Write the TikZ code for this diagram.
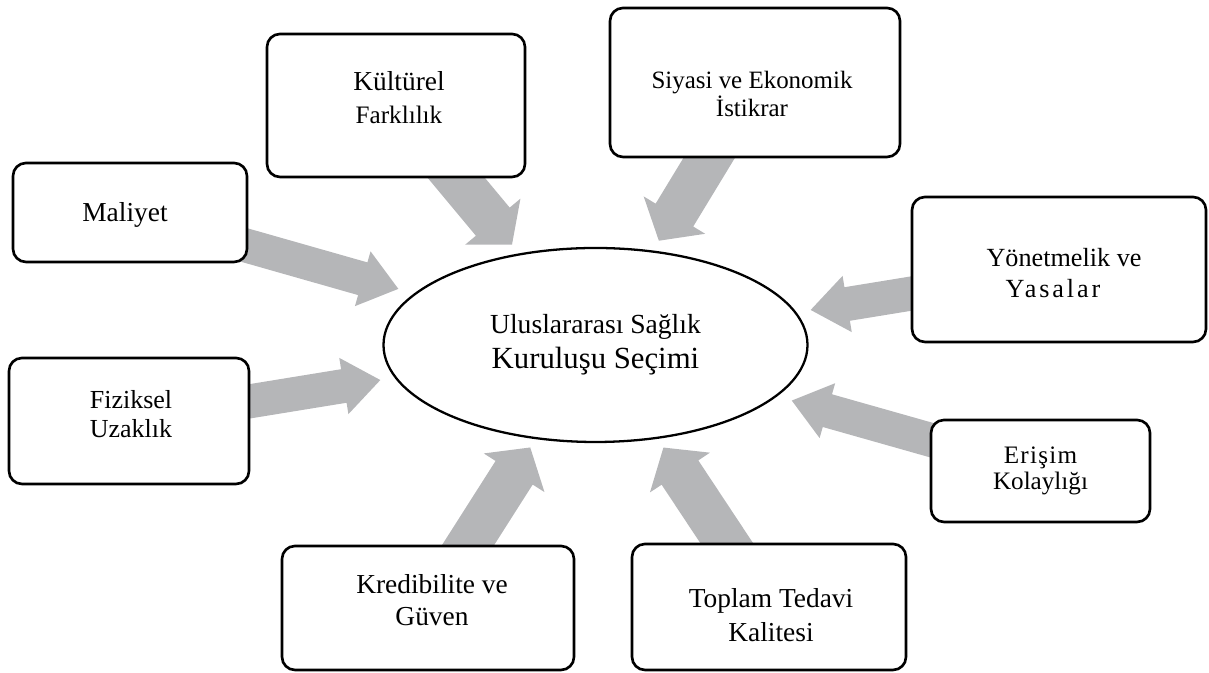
\documentclass[tikz,border=0pt]{standalone}
\usepackage{fontspec}
\setmainfont{Liberation Serif}
\usetikzlibrary{shapes.geometric,calc,backgrounds}
\definecolor{flowgray}{RGB}{181,182,184}

\tikzset{
  factor/.style={draw=black, line width=1.5pt, rounded corners=0.26cm, fill=white, inner sep=0pt},
  factortext/.style={align=center, inner sep=0pt, font=\fontsize{15.6}{18.5}\selectfont},
  flow/.style={fill=flowgray, draw=none},
}

% block arrow: tail, tip, half shaft, half head, head length
\newcommand{\flowarrow}[5]{%
  \coordinate (hb) at ($(#2)!#5!(#1)$);
  \fill[flow] ($(#1)!#3!90:(#2)$) -- ($(hb)!#3!90:(#2)$) -- ($(hb)!#4!90:(#2)$) -- (#2)
    -- ($(hb)!#4!-90:(#2)$) -- ($(hb)!#3!-90:(#2)$) -- ($(#1)!#3!-90:(#2)$) -- cycle;
}
\newcommand{\narrowflow}[2]{\flowarrow{#1}{#2}{0.34cm}{0.57cm}{0.74cm}}
\newcommand{\wideflow}[2]{\flowarrow{#1}{#2}{0.44cm}{0.72cm}{0.6cm}}

\begin{document}
\begin{tikzpicture}
\useasboundingbox (0,0) rectangle (24.18,13.46);

\node[shape=ellipse, draw=black, line width=1.3pt, minimum width=8.48cm, minimum height=3.88cm,
  align=center, font=\fontsize{15.7}{20}\selectfont] (secim) at (11.91,6.56)
  {Uluslararası Sağlık\\{\fontsize{17.5}{20}\selectfont Kuruluşu Seçimi}};

% factor boxes
\node[factor, minimum width=5.16cm, minimum height=2.86cm] (kultur) at (7.92,11.35) {};
\node[factor, minimum width=5.80cm, minimum height=2.98cm] (siyasi) at (15.10,11.81) {};
\node[factor, minimum width=4.68cm, minimum height=1.98cm] (maliyet) at (2.60,9.21) {};
\node[factor, minimum width=5.88cm, minimum height=2.90cm] (yonetmelik) at (21.18,8.07) {};
\node[factor, minimum width=4.80cm, minimum height=2.52cm] (fiziksel) at (2.58,5.04) {};
\node[factor, minimum width=4.38cm, minimum height=2.04cm] (erisim) at (20.81,4.04) {};
\node[factor, minimum width=5.84cm, minimum height=2.48cm] (kredi) at (8.56,1.30) {};
\node[factor, minimum width=5.48cm, minimum height=2.52cm] (toplam) at (15.38,1.32) {};

% texts
\node[factortext] (kulturtext) at ($(kultur)+(0.06,0.16)$)
  {Kültürel\\{\fontsize{14.3}{16}\selectfont Farklılık}};
\node[factortext, font=\fontsize{14.2}{16}\selectfont] (siyasitext) at ($(siyasi)+(-0.06,-0.23)$)
  {Siyasi ve Ekonomik\\İstikrar};
\node[factortext] (maliyettext) at ($(maliyet)+(-0.10,-0.05)$) {Maliyet};
\node[factortext, font=\fontsize{14.9}{17.6}\selectfont] (yonetmeliktext) at ($(yonetmelik)+(0.10,-0.07)$)
  {Yönetmelik ve\\{\addfontfeature{LetterSpace=11}Yasalar}\hspace*{0.44cm}};
\node[factortext, font=\fontsize{14.8}{16.5}\selectfont] (fizikseltext) at ($(fiziksel)+(0.04,0.14)$)
  {Fiziksel\\Uzaklık};
\node[factortext, font=\fontsize{14.3}{15}\selectfont] (erisimtext) at (erisim)
  {{\addfontfeature{LetterSpace=5}Erişim}\\Kolaylığı};
\node[factortext, font=\fontsize{15.6}{18.2}\selectfont] (kreditext) at ($(kredi)+(0.08,0.16)$)
  {Kredibilite ve\\Güven};
\node[factortext, font=\fontsize{15.6}{19.3}\selectfont] (toplamtext) at ($(toplam)+(0.04,-0.16)$)
  {Toplam Tedavi\\Kalitesi};

\begin{scope}[on background layer]
  \coordinate (tMal) at ($(secim)!4.10cm!(maliyet)$);
  \coordinate (tKul) at ($(secim)!2.61cm!(kultur)$);
  \coordinate (tSiy) at ($(secim)!2.44cm!(siyasi)$);
  \coordinate (tYon) at ($(secim)!4.36cm!(yonetmelik)$);
  \coordinate (tFiz) at ($(secim)!4.36cm!(fiziksel)$);
  \coordinate (tEri) at ($(secim)!4.08cm!(erisim)$);
  \coordinate (tKre) at ($(secim)!2.43cm!(kredi)$);
  \coordinate (tTop) at ($(secim)!2.46cm!(toplam)$);

  \narrowflow{maliyet}{tMal}
  \wideflow{kultur}{tKul}
  \wideflow{siyasi}{tSiy}
  \narrowflow{yonetmelik}{tYon}
  \narrowflow{fiziksel}{tFiz}
  \narrowflow{erisim}{tEri}
  \wideflow{kredi}{tKre}
  \wideflow{toplam}{tTop}
\end{scope}
\end{tikzpicture}
\end{document}
